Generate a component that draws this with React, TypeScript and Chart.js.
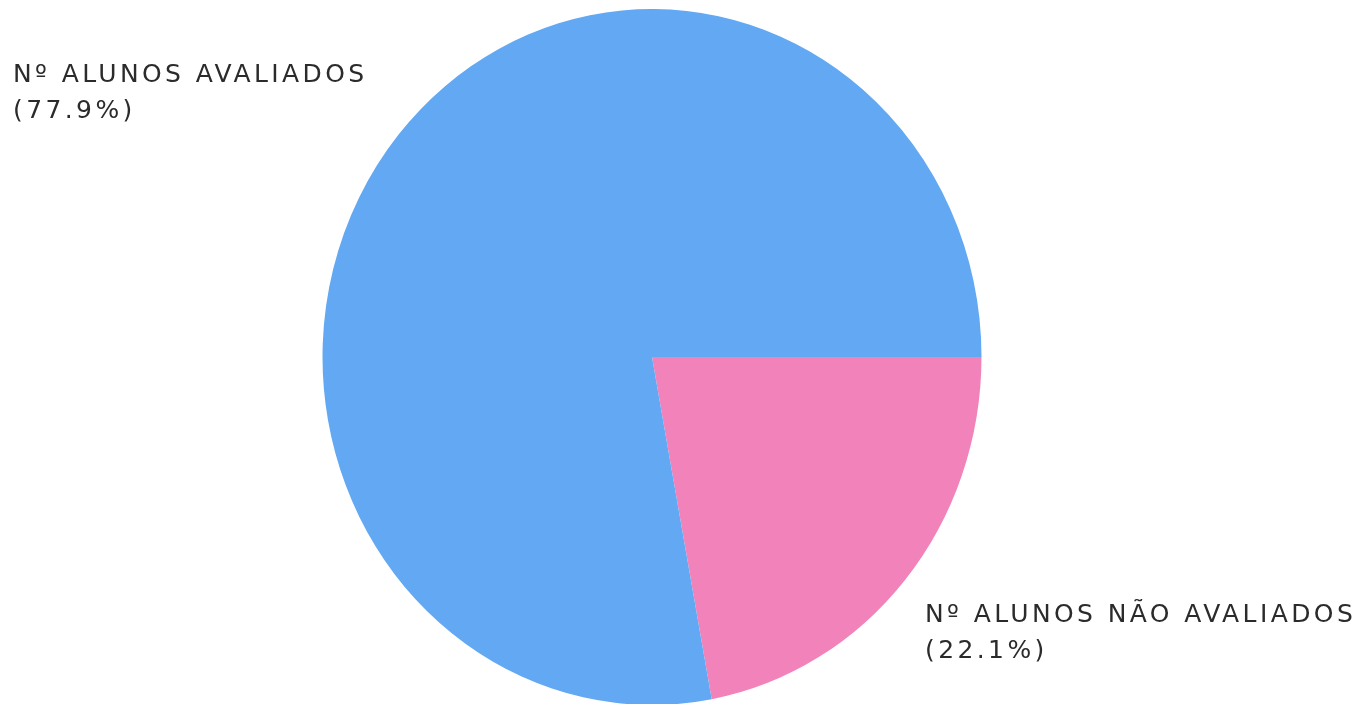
import React, { useEffect, useRef } from "react";
import { Chart, registerables } from "chart.js";

Chart.register(...registerables);

const categories = ["Nº ALUNOS NÃO AVALIADOS", "Nº ALUNOS AVALIADOS"];
const values = [22.1, 77.9];
const percentLabels = ["(22.1%)", "(77.9%)"];
const colors = ["#F283BA", "#62A8F3"];

const ellipsePlugin = {
  id: "ellipse",
  beforeDatasetsDraw(chart: any) {
    const { ctx, chartArea } = chart;
    const cx = (chartArea.left + chartArea.right) / 2;
    const cy = (chartArea.top + chartArea.bottom) / 2;
    ctx.save();
    ctx.translate(cx, cy);
    ctx.scale(1, 348 / 329.5);
    ctx.translate(-cx, -cy);
  },
  afterDatasetsDraw(chart: any) {
    chart.ctx.restore();
  },
  afterDraw(chart: any) {
    const ctx = chart.ctx;
    ctx.save();
    ctx.fillStyle = "#2b2b2b";
    ctx.font = "25px 'DejaVu Sans'";
    (ctx as any).letterSpacing = "3.4px";
    ctx.textAlign = "left";
    ctx.textBaseline = "alphabetic";
    const spots = [
      [925, 622],
      [13, 82],
    ];
    categories.forEach((c, i) => {
      const [x, y] = spots[i];
      ctx.fillText(c, x, y);
      ctx.fillText(percentLabels[i], x, y + 36);
    });
    ctx.restore();
  },
};

export default function App() {
  const ref = useRef<HTMLCanvasElement>(null);
  useEffect(() => {
    document.body.style.margin = "0";
    const chart = new Chart(ref.current!, {
      type: "pie",
      data: {
        labels: categories,
        datasets: [
          {
            data: values,
            backgroundColor: colors,
            borderWidth: 0,
          },
        ],
      },
      options: {
        responsive: false,
        animation: false,
        rotation: 90,
        layout: { padding: { left: 322.5, right: 389.5, top: 27.5, bottom: 17.5 } },
        plugins: { legend: { display: false }, tooltip: { enabled: false } },
      },
      plugins: [ellipsePlugin],
    });
    return () => chart.destroy();
  }, []);
  return (
    <div style={{ width: 1371, height: 704, background: "#fff" }}>
      <canvas ref={ref} width={1371} height={704} style={{ display: "block" }} />
    </div>
  );
}
